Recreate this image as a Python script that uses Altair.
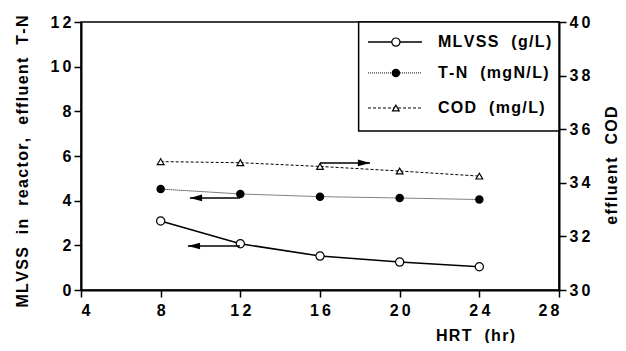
import altair as alt
import pandas as pd

hrt = [8, 12, 16, 20, 24]
mlvss = [3.09, 2.07, 1.52, 1.25, 1.04]
tn = [4.52, 4.30, 4.18, 4.12, 4.05]
cod = [34.79, 34.75, 34.61, 34.44, 34.25]

NB = "\u00a0"
HS = "\u200a"
legend_labels = ["MLVSS  (g/L)", "T-N  (mgN/L)", "COD  (mg/L)"]
legend_y = [11.1, 9.72, 8.15]

FONT = "Liberation Sans"


def spaced(s):
    return HS.join(s.replace(" ", NB))


X_TITLE = spaced("HRT  (hr)")
YL_TITLE = spaced("MLVSS  in  reactor,  effluent  T-N")
YR_TITLE = spaced("effluent  COD")

df = pd.DataFrame({"hrt": hrt, "mlvss": mlvss, "tn": tn, "cod": cod})

xs = alt.Scale(domain=[4, 28], nice=False, zero=False)
yl = alt.Scale(domain=[0, 12], nice=False)
yr = alt.Scale(domain=[30, 40], nice=False, zero=False)

LABEL_EXPR = "join(split(datum.label, ''), '\u2009')"

xaxis = alt.Axis(values=[4, 8, 12, 16, 20, 24, 28], titleX=394, titleY=50, titleBaseline="alphabetic",
                 titleAlign="center", grid=False, labelPadding=5, labelExpr=LABEL_EXPR)


def X(f):
    return alt.X(f, scale=xs, axis=xaxis, title=X_TITLE)


yl_axis = alt.Axis(values=list(range(0, 13, 2)), grid=False, titleX=-59, titleY=139,
                   titleBaseline="middle", titleAlign="center", titleAngle=270, labelExpr=LABEL_EXPR)


def YL(f):
    return alt.Y(f, scale=yl, axis=yl_axis, title=YL_TITLE)


yr_axis = alt.Axis(orient="right", values=list(range(30, 41, 2)), grid=False, titleX=52, titleY=143,
                   titleBaseline="middle", titleAlign="center", titleAngle=270, labelExpr=LABEL_EXPR)


def YR(f):
    return alt.Y(f, scale=yr, axis=yr_axis, title=YR_TITLE)


ARROW_L = "M -1 0 L 1 -0.55 L 1 0.55 Z"
ARROW_R = "M 1 0 L -1 -0.55 L -1 0.55 Z"

base = alt.Chart(df)

ml_line = base.mark_line(color="black", strokeWidth=1.5).encode(x=X("hrt:Q"), y=YL("mlvss:Q"))
ml_pts = base.mark_point(shape="circle", filled=True, fill="white", stroke="black", strokeWidth=1.2, size=68, opacity=1).encode(
    x=X("hrt:Q"), y=YL("mlvss:Q"))
tn_line = base.mark_line(color="black", strokeWidth=1, strokeDash=[1, 1]).encode(x=X("hrt:Q"), y=YL("tn:Q"))
tn_pts = base.mark_point(shape="circle", filled=True, color="black", size=72, opacity=1).encode(
    x=X("hrt:Q"), y=YL("tn:Q"))

arrows_left = pd.DataFrame({"tip": [9.47, 9.37], "head": [9.77, 9.67], "x2": [11.98, 11.98], "y": [4.12, 1.97]})
arr_rule = alt.Chart(arrows_left).mark_rule(color="black", strokeWidth=1.5).encode(
    x=X("tip:Q"), x2="x2:Q", y=YL("y:Q"))
arr_head = alt.Chart(arrows_left).mark_point(shape=ARROW_L, filled=True, color="black", size=150, opacity=1).encode(
    x=X("head:Q"), y=YL("y:Q"))

box = alt.Chart(pd.DataFrame({"x1": [17.94], "x2": [28], "y1": [12], "y2": [7.12]})).mark_rect(
    fill="white", stroke="black", strokeWidth=1.5).encode(
    x=X("x1:Q"), x2="x2:Q", y=YL("y1:Q"), y2="y2:Q")

leg = pd.DataFrame({"label": [spaced(s) for s in legend_labels], "y": legend_y, "x1": [18.41] * 3, "x2": [21.12] * 3,
                    "xm": [19.81] * 3, "xt": [21.92] * 3})
leg_ml = alt.Chart(leg.iloc[[0]]).mark_rule(color="black", strokeWidth=1.5).encode(
    x=X("x1:Q"), x2="x2:Q", y=YL("y:Q"))
leg_tn = alt.Chart(leg.iloc[[1]]).mark_rule(color="black", strokeWidth=1, strokeDash=[1, 1]).encode(
    x=X("x1:Q"), x2="x2:Q", y=YL("y:Q"))
leg_cod = alt.Chart(leg.iloc[[2]]).mark_rule(color="black", strokeWidth=1, strokeDash=[3, 2]).encode(
    x=X("x1:Q"), x2="x2:Q", y=YL("y:Q"))
leg_p1 = alt.Chart(leg.iloc[[0]]).mark_point(shape="circle", filled=True, fill="white", stroke="black", strokeWidth=1.2, size=68, opacity=1).encode(
    x=X("xm:Q"), y=YL("y:Q"))
leg_p2 = alt.Chart(leg.iloc[[1]]).mark_point(shape="circle", filled=True, color="black", size=72, opacity=1).encode(
    x=X("xm:Q"), y=YL("y:Q"))
leg_p3 = alt.Chart(leg.iloc[[2]]).mark_point(shape="triangle-up", filled=True, fill="white", stroke="black", strokeWidth=1.2, size=45, opacity=1).encode(
    x=X("xm:Q"), y=YL("y:Q"))
leg_txt = alt.Chart(leg).mark_text(align="left", baseline="middle", font=FONT, fontSize=16, fontWeight="bold", color="black").encode(
    x=X("xt:Q"), y=YL("y:Q"), text="label:N")

left = alt.layer(ml_line, ml_pts, tn_line, tn_pts, arr_rule, arr_head, box,
                 leg_ml, leg_tn, leg_cod, leg_p1, leg_p2, leg_p3, leg_txt)

cod_line = base.mark_line(color="black", strokeWidth=1, strokeDash=[3, 2]).encode(x=X("hrt:Q"), y=YR("cod:Q"))
cod_pts = base.mark_point(shape="triangle-up", filled=True, fill="white", stroke="black", strokeWidth=1.2, size=45, opacity=1).encode(
    x=X("hrt:Q"), y=YR("cod:Q"))
arrow_r = pd.DataFrame({"x1": [16.0], "tip": [18.51], "head": [18.21], "y": [34.74]})
cod_arr = alt.Chart(arrow_r).mark_rule(color="black", strokeWidth=1.5).encode(
    x=X("x1:Q"), x2="tip:Q", y=YR("y:Q"))
cod_head = alt.Chart(arrow_r).mark_point(shape=ARROW_R, filled=True, color="black", size=150, opacity=1).encode(
    x=X("head:Q"), y=YR("y:Q"))
right = alt.layer(cod_line, cod_pts, cod_arr, cod_head)

chart = alt.layer(left, right).resolve_scale(y="independent").properties(
    width=478, height=268,
    background="white",
    autosize=alt.AutoSizeParams(type="none"),
    padding={"left": 73, "top": 14, "right": 59, "bottom": 53},
).configure_view(stroke="black", strokeWidth=1.5).configure_axis(
    domainColor="black", domainWidth=2, tickColor="black", tickWidth=1.5, tickSize=7,
    labelFont=FONT, labelFontSize=16, labelFontWeight="bold", labelColor="black", labelPadding=3,
    titleFont=FONT, titleFontSize=16, titleFontWeight="bold", titleColor="black",
)

chart.save("out.html", embed_options={"renderer": "svg", "actions": False})
